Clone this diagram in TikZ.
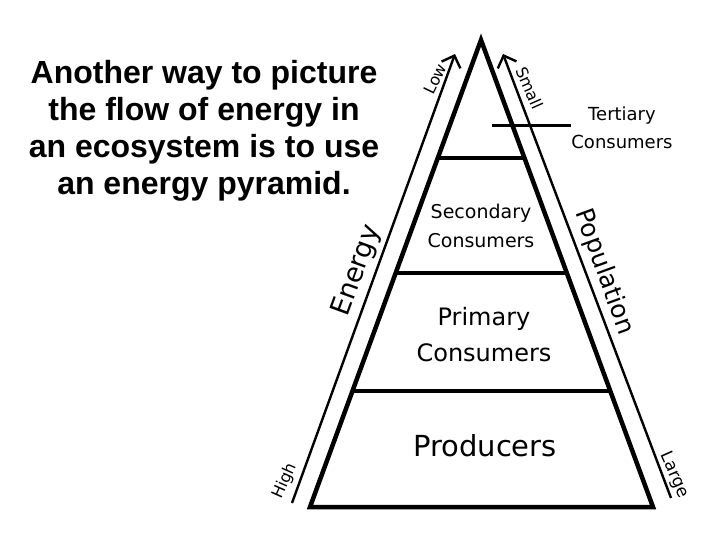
\documentclass[tikz,border=0pt]{standalone}
\usepackage{fontspec}
\setmainfont{DejaVu Sans}
\newfontfamily\titlefont{Liberation Sans}
\usetikzlibrary{arrows.meta}
\begin{document}
\begin{tikzpicture}[x=1pt,y=-1pt,
  pyr/.style={line width=4.5pt,line join=miter,line cap=round},
  tier/.style={line width=4.5pt},
  axisline/.style={line width=2.4pt,-{Straight Barb[length=10pt,width=20pt,line width=2.4pt]}},
  lbl/.style={inner sep=0pt,align=center},
]
\useasboundingbox (0,0) rectangle (720,540);
% title
\node[lbl,font=\titlefont\bfseries\fontsize{32}{37}\selectfont] (title) at (204,131)
  {Another way to picture\\the flow of energy in\\an ecosystem is to use\\an energy pyramid.};
% pyramid
\coordinate (apex) at (481,40);
\coordinate (bl) at (310,507);
\coordinate (br) at (653,507);
\draw[pyr] (bl) -- (apex) -- (br) -- cycle;
\draw[tier] (438,158) -- (524,158);
\draw[tier] (396,273) -- (567,273);
\draw[tier] (352,391) -- (610,391);
\draw[line width=3pt] (492,126) -- (571,126);
% side arrows
\coordinate (lb) at (292,503);
\coordinate (lt) at (455,54);
\coordinate (rb) at (671,498);
\coordinate (rt) at (503,54);
\draw[axisline] (lb) -- (lt);
\draw[axisline] (rb) -- (rt);
% labels
\node[lbl,font=\fontsize{18}{28}\selectfont] (tert) at (622,128) {Tertiary\\Consumers};
\node[lbl,font=\fontsize{19}{29}\selectfont] (sec) at (481,226) {Secondary\\Consumers};
\node[lbl,font=\fontsize{24}{36}\selectfont] (prim) at (484,335) {Primary\\Consumers};
\node[lbl,font=\fontsize{29}{34}\selectfont] (prod) at (485,446) {Producers};
\node[lbl,font=\fontsize{27}{30}\selectfont,rotate=70] (energy) at (357,271) {Energy};
\node[lbl,font=\fontsize{25}{30}\selectfont,rotate=-70] (pop) at (604,272) {Population};
\node[lbl,font=\fontsize{16}{20}\selectfont,rotate=64] (low) at (435,79) {Low};
\node[lbl,font=\fontsize{16}{20}\selectfont,rotate=-66] (small) at (530,88) {Small};
\node[lbl,font=\fontsize{16}{20}\selectfont,rotate=66] (high) at (285,481) {High};
\node[lbl,font=\fontsize{17}{20}\selectfont,rotate=-66] (large) at (674,475) {Large};
\end{tikzpicture}
\end{document}
